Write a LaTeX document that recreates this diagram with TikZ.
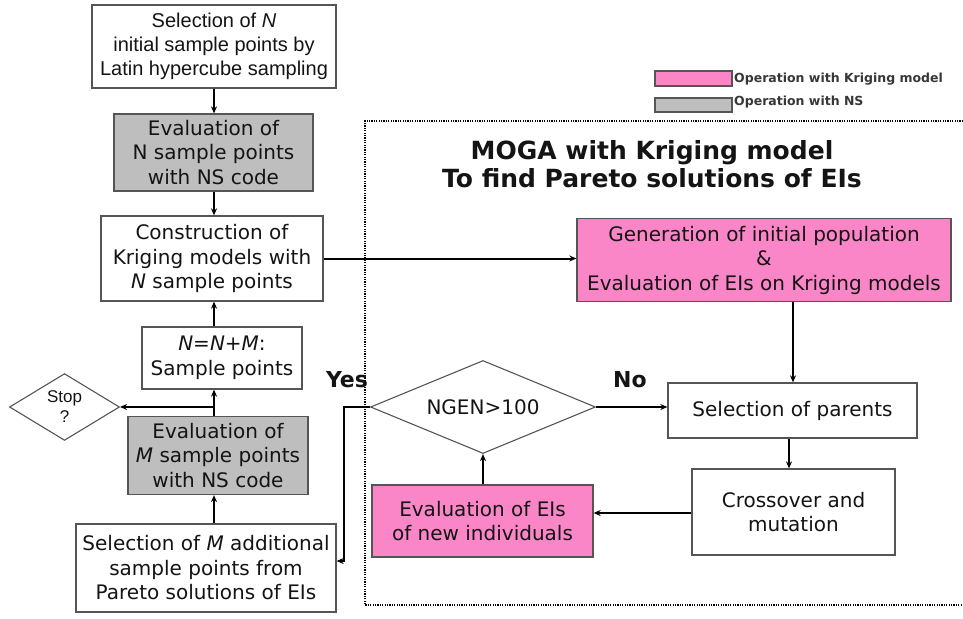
\documentclass[tikz,border=0pt]{standalone}
\usepackage{fontspec}
\setmainfont{DejaVu Sans}
\newfontfamily\arialf{Liberation Sans}
\usetikzlibrary{shapes.geometric,arrows.meta}
\definecolor{pinkfill}{RGB}{250,134,200}
\definecolor{grayfill}{RGB}{190,190,190}
\definecolor{boxline}{RGB}{85,85,85}
\definecolor{txt}{RGB}{20,20,20}
\begin{document}
\begin{tikzpicture}[x=1pt,y=-1pt,
  box/.style={draw=boxline, line width=1.3pt, align=center, inner sep=0pt,
    font=\fontsize{20}{24.5}\selectfont, text=txt},
  pinkbox/.style={box, fill=pinkfill},
  graybox/.style={box, fill=grayfill},
  dec/.style={draw=boxline, line width=1.1pt, diamond, inner sep=0pt, align=center, text=txt},
  conn/.style={line width=2pt, -{Stealth[length=7pt,width=6pt]}},
  lab/.style={font=\bfseries\fontsize{22}{24}\selectfont, text=txt},
  legtxt/.style={font=\bfseries\fontsize{12.5}{14}\selectfont, text=txt!85, anchor=west, inner sep=0pt},
  title/.style={font=\bfseries\fontsize{25}{28.5}\selectfont, align=center, text=txt}
]
\useasboundingbox (0,0) rectangle (963,618);
\coordinate (colx) at (214,0);

% left column
\node[box, minimum width=244pt, minimum height=83pt, font=\arialf\fontsize{20}{24}\selectfont] (top) at (214,46.5)
  {Selection of \textit{N}\\initial sample points by\\Latin hypercube sampling};
\node[graybox, minimum width=199pt, minimum height=77pt] (evalN) at (213.5,152.5)
  {Evaluation of\\N sample points\\with NS code};
\node[box, minimum width=222pt, minimum height=85pt] (constr) at (212,258.5)
  {Construction of\\Kriging models with\\\textit{N} sample points};
\node[box, minimum width=160pt, minimum height=62pt] (nnm) at (222,358)
  {\textit{N}=\textit{N}+\textit{M}:\\Sample points};
\node[dec, minimum width=110pt, minimum height=60pt, font=\arialf\fontsize{17}{20}\selectfont] (stop) at (64.5,407)
  {Stop\\?};
\node[graybox, minimum width=180pt, minimum height=78pt] (evalM) at (218,455.5)
  {Evaluation of\\\textit{M} sample points\\with NS code};
\node[box, minimum width=260pt, minimum height=88pt] (selM) at (206,568)
  {Selection of \textit{M} additional\\sample points from\\Pareto solutions of EIs};

% legend
\node[pinkbox, minimum width=77pt, minimum height=15pt] (legp) at (693.5,78.5) {};
\node[graybox, minimum width=77pt, minimum height=14pt] (legg) at (693.5,105) {};
\node[legtxt] (legpt) at (734,79) {Operation with Kriging model};
\node[legtxt] (leggt) at (734,102) {Operation with NS};

% dotted region
\draw[line width=1.5pt, dash pattern=on 1.2pt off 1.2pt] (963,121) -- (365,121) -- (365,605) -- (963,605);
\node[title] (ttl) at (652,164) {MOGA with Kriging model\\To find Pareto solutions of EIs};

% right part
\node[pinkbox, minimum width=374pt, minimum height=83pt] (gen) at (764,260)
  {Generation of initial population\\\&\\Evaluation of EIs on Kriging models};
\node[dec, minimum width=225pt, minimum height=93pt, aspect=2.42, font=\fontsize{20}{24}\selectfont] (ngen) at (483,407)
  {NGEN>100};
\node[box, minimum width=249pt, minimum height=55pt] (selp) at (792.5,410.5)
  {Selection of parents};
\node[box, minimum width=203pt, minimum height=86pt] (cross) at (793.5,512)
  {Crossover and\\mutation};
\node[pinkbox, minimum width=221pt, minimum height=72pt] (evalEI) at (482.5,521)
  {Evaluation of EIs\\of new individuals};

\node[lab] (yes) at (347,380) {Yes};
\node[lab] (no) at (630,380) {No};

% connectors left
\draw[conn] (top.south -| colx) -- (evalN.north -| colx);
\draw[conn] (evalN.south -| colx) -- (constr.north -| colx);
\draw[conn] (nnm.north -| colx) -- (constr.south -| colx);
\draw[conn] (evalM.north -| colx) -- (nnm.south -| colx);
\coordinate (br) at (stop.east -| colx);
\draw[conn] (br) -- (stop.east);
\draw[conn] (selM.north -| colx) -- (evalM.south -| colx);

% connectors right
\draw[conn] (constr.east) -- (gen.west |- constr.east);
\coordinate (gx) at (793,0);
\draw[conn] (gen.south -| gx) -- (selp.north -| gx);
\coordinate (sx) at (789,0);
\draw[conn] (selp.south -| sx) -- (cross.north -| sx);
\coordinate (cy) at (0,513);
\draw[conn] (cross.west |- cy) -- (evalEI.east |- cy);
\draw[conn] (evalEI.north -| ngen.south) -- (ngen.south);
\draw[conn] (ngen.east) -- (selp.west |- ngen.east);
\coordinate (yx) at (344,407);
\coordinate (yb) at (344,561);
\draw[conn] (ngen.west) -- (yx) -- (yb) -- (selM.east |- yb);
\end{tikzpicture}
\end{document}
